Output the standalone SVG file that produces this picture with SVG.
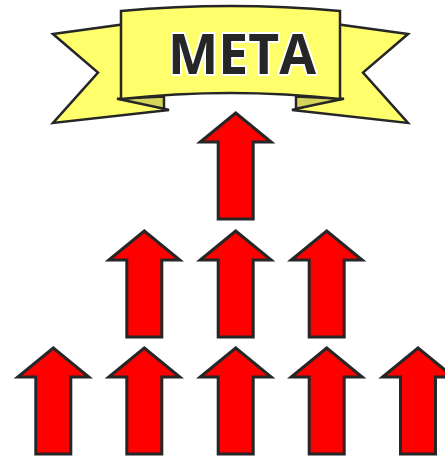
<svg xmlns="http://www.w3.org/2000/svg" xmlns:xlink="http://www.w3.org/1999/xlink" width="445" height="456" viewBox="0 0 445 456">
<style>
.rib{fill:#ffff6b;stroke:#262626;stroke-width:2.5;stroke-linejoin:miter}
.fold{fill:#d4d45c;stroke:#262626;stroke-width:2.5;stroke-linejoin:miter}
.arr{fill:#ff0000;stroke:#262626;stroke-width:3;stroke-linejoin:miter}
.lbl{font-family:"Open Sans","Liberation Sans",sans-serif;font-weight:bold;font-size:56px;fill:#262626;stroke:#ffffff;stroke-width:4;stroke-linejoin:round;paint-order:stroke}
</style>
<defs>
<path id="arrow" d="M0,0 L35.5,29 L17.5,29 L17.5,106 L-17.5,106 L-17.5,29 L-35.5,29 Z"/>
</defs>
<g id="banner">
<path class="rib" d="M53,34 L126,24 L126,99 L169,110 L53,123 L98,72.5 Z"/>
<path class="fold" d="M117,98.7 L164,96.5 L164,108.7 Z"/>
<path class="rib" d="M408,34 L335,24 L335,99 L292,110 L408,123 L363,72.5 Z"/>
<path class="fold" d="M344,98.7 L296,96.5 L296,108.7 Z"/>
<path class="rib" d="M121,11 Q230.5,1 340,11 L340,99 Q230.5,87 121,99 Z"/>
<text class="lbl" x="242" y="74" text-anchor="middle" textLength="148" lengthAdjust="spacingAndGlyphs">META</text>
</g>
<g id="arrows">
<g id="arrow-top"><use xlink:href="#arrow" class="arr" transform="translate(235.7,113)"/></g>
<g id="arrow-m1"><use xlink:href="#arrow" class="arr" transform="translate(144.3,231)"/></g>
<g id="arrow-m2"><use xlink:href="#arrow" class="arr" transform="translate(235.7,231)"/></g>
<g id="arrow-m3"><use xlink:href="#arrow" class="arr" transform="translate(326.7,231)"/></g>
<g id="arrow-b1"><use xlink:href="#arrow" class="arr" transform="translate(53.3,348)"/></g>
<g id="arrow-b2"><use xlink:href="#arrow" class="arr" transform="translate(144.3,348)"/></g>
<g id="arrow-b3"><use xlink:href="#arrow" class="arr" transform="translate(235.7,348)"/></g>
<g id="arrow-b4"><use xlink:href="#arrow" class="arr" transform="translate(326.7,348)"/></g>
<g id="arrow-b5"><use xlink:href="#arrow" class="arr" transform="translate(418,348)"/></g>
</g>
</svg>
